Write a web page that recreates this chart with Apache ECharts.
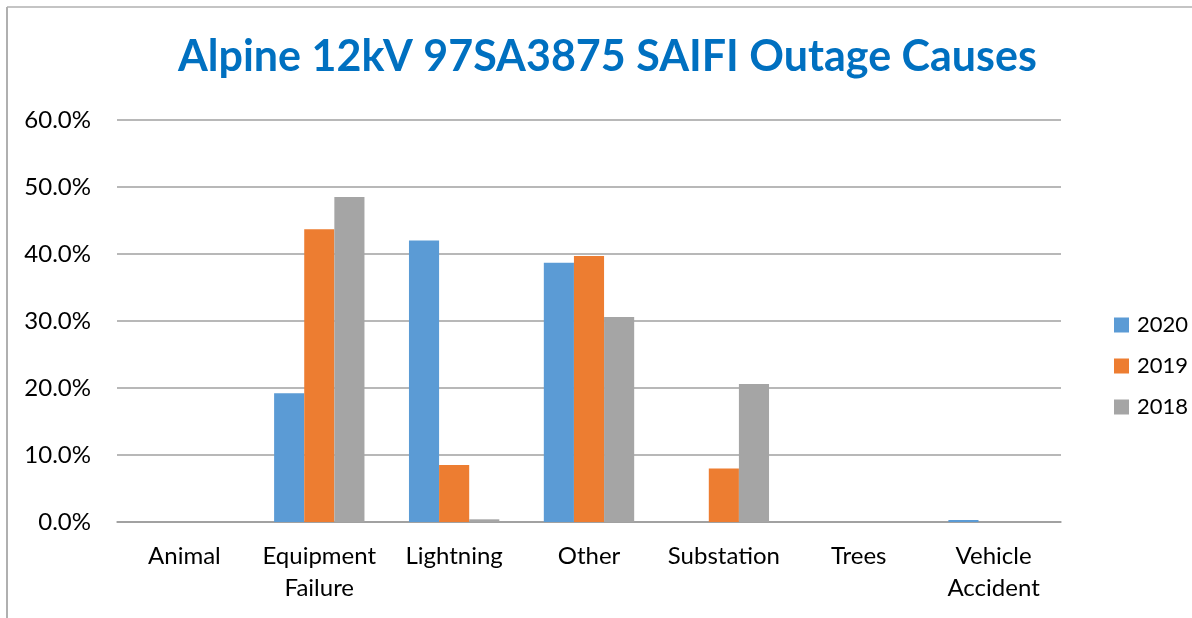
<!DOCTYPE html>
<html>
<head>
<meta charset="utf-8">
<script src="https://cdn.jsdelivr.net/npm/echarts@6/dist/echarts.min.js"></script>
<style>
  html, body { margin: 0; padding: 0; background: #fff; }
  #chart { width: 1192px; height: 618px; }
</style>
</head>
<body>
<div id="chart"></div>
<script>
// data
const categories = ['Animal', 'Equipment\nFailure', 'Lightning', 'Other', 'Substation', 'Trees', 'Vehicle\nAccident'];
const years = ['2020', '2019', '2018'];
const values2020 = [0, 19.2, 42.0, 38.7, 0, 0, 0.3];
const values2019 = [0, 43.7, 8.5, 39.7, 8.0, 0, 0];
const values2018 = [0, 48.5, 0.4, 30.6, 20.6, 0, 0];
const yTicks = [0, 10, 20, 30, 40, 50, 60];

const colors = ['#5B9BD5', '#ED7D31', '#A5A5A5'];
const font = 'Lato';

const chart = echarts.init(document.getElementById('chart'));

function bar(name, data) {
  return {
    name: name,
    type: 'bar',
    data: data,
    barGap: 0,
    barCategoryGap: '33%',
    animation: false
  };
}

chart.setOption({
  backgroundColor: '#fff',
  color: colors,
  title: {
    text: 'Alpine 12kV 97SA3875 SAIFI Outage Causes',
    left: 173,
    top: 31,
    textStyle: { color: '#0070C0', fontWeight: 'bold', fontSize: 43, fontFamily: font }
  },
  legend: {
    orient: 'vertical',
    left: 1114,
    top: 314,
    padding: 0,
    itemWidth: 15,
    itemHeight: 15,
    itemGap: 19,
    icon: 'rect',
    data: years,
    textStyle: { fontSize: 22, color: '#000', fontFamily: font, padding: [0, 0, 0, 3] }
  },
  grid: { left: 117, right: 131, top: 120, bottom: 96 },
  xAxis: {
    type: 'category',
    data: categories,
    axisLine: { lineStyle: { color: '#999', width: 1.5 } },
    axisTick: { show: false },
    axisLabel: { interval: 0, fontSize: 24, color: '#000', fontFamily: font, margin: 18, lineHeight: 32 }
  },
  yAxis: {
    type: 'value',
    min: yTicks[0],
    max: yTicks[yTicks.length - 1],
    interval: 10,
    axisLine: { show: false },
    axisTick: { show: false },
    splitLine: { lineStyle: { color: '#A0A0A0', width: 1.5 } },
    axisLabel: {
      fontSize: 24, color: '#000', fontFamily: font, margin: 26,
      formatter: v => v.toFixed(1) + '%'
    }
  },
  graphic: [
    { type: 'line', shape: { x1: 7, y1: 7, x2: 1192, y2: 7 }, style: { stroke: '#B0B0B0', lineWidth: 1.5 } },
    { type: 'line', shape: { x1: 7, y1: 7, x2: 7, y2: 618 }, style: { stroke: '#B0B0B0', lineWidth: 2 } }
  ],
  series: [
    bar(years[0], values2020),
    bar(years[1], values2019),
    bar(years[2], values2018)
  ]
});
</script>
</body>
</html>
